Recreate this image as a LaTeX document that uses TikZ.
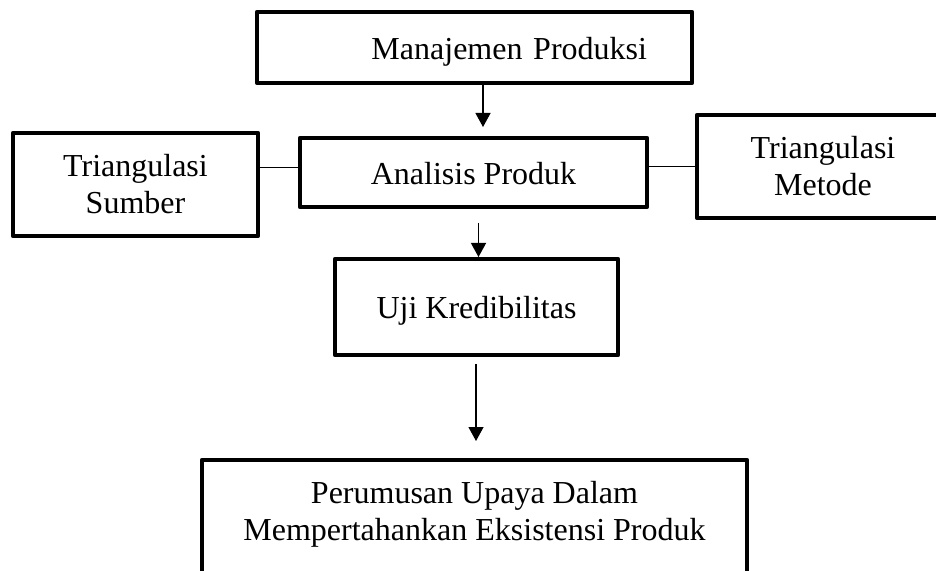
\documentclass[tikz,border=0pt]{standalone}
\usepackage{fontspec}
\setmainfont{Liberation Serif}
\usetikzlibrary{arrows.meta}

\tikzset{
  kotak/.style={draw, line width=2.1pt, line join=round, align=center, inner sep=0pt, outer sep=0pt, font=\fontsize{16}{18.5}\selectfont},
  sebaris/.style={text height=12pt, text depth=0pt},
  panah/.style={-{Triangle[width=7.5pt,length=7pt]}, line width=0.65pt},
  garis/.style={line width=0.65pt}
}

\begin{document}
\begin{tikzpicture}[x=0.5pt, y=-0.5pt]
\useasboundingbox (0,0) rectangle (936,571);
\clip (0,0) rectangle (936,571);
% kotak
\node[kotak, sebaris, minimum width=217.5pt, minimum height=35.5pt, text width=172.5pt, inner xsep=22.5pt, align=right] (prod) at (474.5,47.5) {Manajemen Produksi};
\node[kotak, sebaris, minimum width=173.5pt, minimum height=34.5pt] (analisis) at (473.5,172.5) {Analisis Produk};
\node[kotak, minimum width=122.5pt, minimum height=51.5pt] (sumber) at (135.5,184.5) {Triangulasi\\Sumber};
\node[kotak, minimum width=126pt, minimum height=51.5pt] (metode) at (823,166.5) {Triangulasi\\Metode};
\node[kotak, sebaris, minimum width=141.5pt, minimum height=48pt] (uji) at (476.5,307) {Uji Kredibilitas};
\node[kotak, minimum width=272.5pt, minimum height=90.6pt, text depth=40pt] (rumus) at (474.5,550.6) {Perumusan Upaya Dalam\\Mempertahankan Eksistensi Produk};
% penghubung
\draw[panah, shorten >=5.5pt] ([xshift=4.25pt]prod.south) -- ([xshift=4.25pt]prod.south |- analisis.north);
\draw[panah, shorten <=8pt, shorten >=1pt] ([xshift=2.5pt]analisis.south) -- ([xshift=2.5pt]analisis.south |- uji.north);
\draw[panah, shorten <=4.5pt, shorten >=9.5pt] ([xshift=-0.25pt]uji.south) -- ([xshift=-0.25pt]uji.south |- rumus.north);
\draw[garis] ([yshift=2.5pt]analisis.west) -- ([yshift=2.5pt]analisis.west -| sumber.east);
\draw[garis] (metode.west) -- (metode.west -| analisis.east);
\end{tikzpicture}
\end{document}
